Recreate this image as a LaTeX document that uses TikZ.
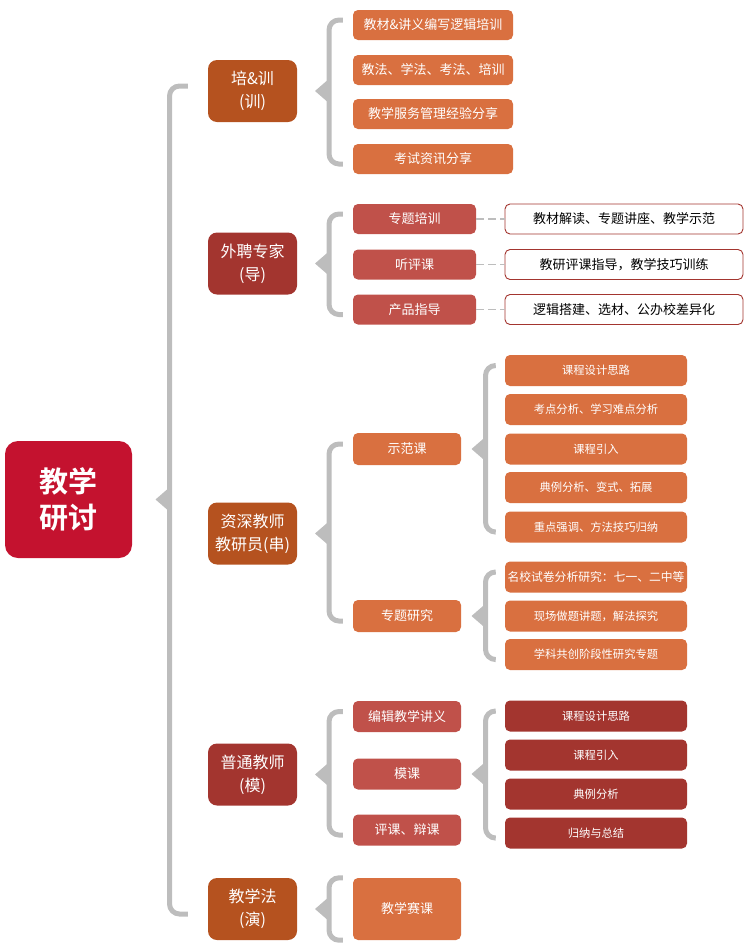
\documentclass[tikz,border=0pt]{standalone}
\usepackage{fontspec}
\setmainfont{Noto Sans CJK SC}[BoldFont={Noto Sans CJK SC Bold}]
\usetikzlibrary{calc}
\definecolor{rootred}{HTML}{C4122F}
\definecolor{burnt}{HTML}{B5521F}
\definecolor{darkred}{HTML}{A3352F}
\definecolor{orng}{HTML}{D97040}
\definecolor{salmon}{HTML}{C0514A}
\definecolor{bracegray}{HTML}{BDBDBD}
\tikzset{
  box/.style={rounded corners=5pt, inner sep=0pt, text=white, align=center},
  lvlone/.style={box, rounded corners=9pt, minimum width=89pt, minimum height=62pt, font=\fontsize{16}{23}\selectfont},
  lvltwo/.style={box, minimum height=31pt, font=\fontsize{13}{15}\selectfont},
  leaf/.style={box, minimum width=182pt, minimum height=31pt, font=\fontsize{11.3}{14}\selectfont},
  note/.style={box, draw=darkred, line width=0.9pt, fill=white, text=black, minimum width=238pt, minimum height=30pt, font=\fontsize{13}{15}\selectfont},
  bracel/.style={draw=bracegray, line width=5pt, rounded corners=10pt},
  dashl/.style={draw=bracegray, line width=1.4pt, dash pattern=on 8pt off 4pt},
}
% #2 line, #3 first child, #4 last child, #5 parent
\newcommand{\mbrace}[5][10pt]{%
  \draw[bracel, shorten <=#1, shorten >=#1] ($(#3.west)+(0,-5)$) -- ($(#3.west -| #2)+(0,-5)$) -- ($(#4.west -| #2)+(0,5)$) -- ($(#4.west)+(0,5)$);
  \fill[bracegray] ($(#5.center -| #2)+(1,-13)$) -- ++(-15,13) -- ++(15,13) -- cycle;
}
\begin{document}
\begin{tikzpicture}[x=1pt, y=-1pt]
\useasboundingbox (0,0) rectangle (750,951);
%%%%%%%%%%%%%%%%%%%%%%%%%%%%%%% root
\node[box, fill=rootred, rounded corners=13pt, minimum width=127pt, minimum height=117pt, font=\fontsize{29}{36}\selectfont\bfseries](root) at (68.5,499.5){教学\\研讨};
%%%%%%%%%%%%%%%%%%%%%%%%%%%%%%% level one
\node[lvlone, fill=burnt](pei) at (252.5,91){培\&训\\(训)};
\node[lvlone, fill=darkred](waipin) at (252.5,263.5){外聘专家\\(导)};
\node[lvlone, fill=burnt](zishen) at (252.5,533.5){资深教师\\教研员(串)};
\node[lvlone, fill=darkred](putong) at (252.5,774.5){普通教师\\(模)};
\node[lvlone, fill=burnt](jxf) at (252.5,909){教学法\\(演)};
%%%%%%%%%%%%%%%%%%%%%%%%%%%%%%% 培&训
\node[lvltwo, fill=orng, minimum width=160pt, minimum height=30pt](pei1) at (433,25){教材\&讲义编写逻辑培训};
\node[lvltwo, fill=orng, minimum width=160pt, minimum height=30pt](pei2) at (433,70){教法、学法、考法、培训};
\node[lvltwo, fill=orng, minimum width=160pt, minimum height=30pt](pei3) at (433,114){教学服务管理经验分享};
\node[lvltwo, fill=orng, minimum width=160pt, minimum height=30pt](pei4) at (433,159){考试资讯分享};
%%%%%%%%%%%%%%%%%%%%%%%%%%%%%%% 外聘专家
\node[lvltwo, fill=salmon, minimum width=123pt, minimum height=30pt](wp1) at (414.5,219){专题培训};
\node[lvltwo, fill=salmon, minimum width=123pt, minimum height=30pt](wp2) at (414.5,264.5){听评课};
\node[lvltwo, fill=salmon, minimum width=123pt, minimum height=30pt](wp3) at (414.5,309.5){产品指导};
\node[note](wpn1) at (624,219){教材解读、专题讲座、教学示范};
\node[note](wpn2) at (624,264.5){教研评课指导，教学技巧训练};
\node[note](wpn3) at (624,309.5){逻辑搭建、选材、公办校差异化};
\draw[dashl] (wp1) -- (wpn1);
\draw[dashl] (wp2) -- (wpn2);
\draw[dashl] (wp3) -- (wpn3);
%%%%%%%%%%%%%%%%%%%%%%%%%%%%%%% 资深教师
\node[lvltwo, fill=orng, minimum width=108pt, minimum height=32pt](zs1) at (407,449){示范课};
\node[lvltwo, fill=orng, minimum width=108pt, minimum height=32pt](zs2) at (407,616){专题研究};
\node[leaf, fill=orng](sf1) at (596,370.5){课程设计思路};
\node[leaf, fill=orng](sf2) at (596,409.5){考点分析、学习难点分析};
\node[leaf, fill=orng](sf3) at (596,449){课程引入};
\node[leaf, fill=orng](sf4) at (596,487.5){典例分析、变式、拓展};
\node[leaf, fill=orng](sf5) at (596,527){重点强调、方法技巧归纳};
\node[leaf, fill=orng, font=\fontsize{11.8}{14}\selectfont](zt1) at (596,577){名校试卷分析研究：七一、二中等};
\node[leaf, fill=orng](zt2) at (596,616){现场做题讲题，解法探究};
\node[leaf, fill=orng](zt3) at (596,654.5){学科共创阶段性研究专题};
%%%%%%%%%%%%%%%%%%%%%%%%%%%%%%% 普通教师
\node[lvltwo, fill=salmon, minimum width=108pt](pt1) at (407,716.5){编辑教学讲义};
\node[lvltwo, fill=salmon, minimum width=108pt](pt2) at (407,774){模课};
\node[lvltwo, fill=salmon, minimum width=108pt](pt3) at (407,830){评课、辩课};
\node[leaf, fill=darkred](mk1) at (596,716){课程设计思路};
\node[leaf, fill=darkred](mk2) at (596,755){课程引入};
\node[leaf, fill=darkred](mk3) at (596,794){典例分析};
\node[leaf, fill=darkred](mk4) at (596,833){归纳与总结};
%%%%%%%%%%%%%%%%%%%%%%%%%%%%%%% 教学法
\node[lvltwo, fill=orng, minimum width=108pt, minimum height=62pt](jx1) at (407,909){教学赛课};
%%%%%%%%%%%%%%%%%%%%%%%%%%%%%%% braces
\coordinate(c0) at (169.5,0);
\coordinate(c1) at (329,0);
\coordinate(c2) at (485.5,0);
\mbrace[20pt]{c0}{pei}{jxf}{root}
\mbrace{c1}{pei1}{pei4}{pei}
\mbrace{c1}{wp1}{wp3}{waipin}
\mbrace{c1}{zs1}{zs2}{zishen}
\mbrace{c1}{pt1}{pt3}{putong}
\mbrace{c2}{sf1}{sf5}{zs1}
\mbrace{c2}{zt1}{zt3}{zs2}
\mbrace{c2}{mk1}{mk4}{pt2}
\draw[bracel, shorten <=10pt, shorten >=10pt] (jx1.north west) -- (jx1.north west -| c1) -- (jx1.south west -| c1) -- (jx1.south west);
\fill[bracegray] ($(jxf.center -| c1)+(1,-13)$) -- ++(-15,13) -- ++(15,13) -- cycle;
\end{tikzpicture}
\end{document}
